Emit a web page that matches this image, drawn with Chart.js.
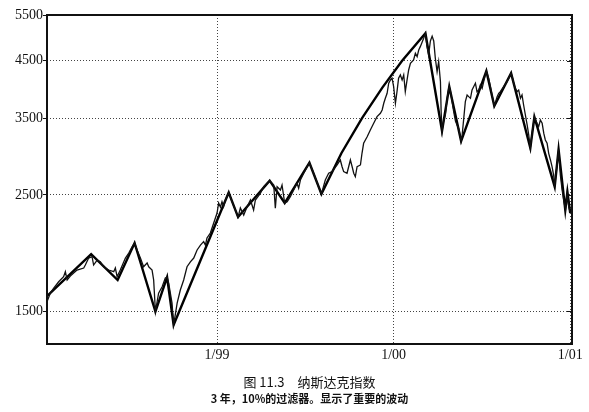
<!DOCTYPE html>
<html lang="zh">
<head>
<meta charset="utf-8">
<title>纳斯达克指数</title>
<script src="https://cdn.jsdelivr.net/npm/chart.js@4.4.1/dist/chart.umd.min.js"></script>
<style>
  html, body { margin: 0; padding: 0; background: #fff; }
  #chart { display: block; }
</style>
</head>
<body>
<canvas id="chart" width="589" height="412"></canvas>
<script>
// Nasdaq daily close, 1/98 - 1/01 (decimal years), and the 10% filter turning points
const dailyT = [
  1998.037, 1998.056, 1998.075, 1998.103, 1998.131, 1998.141, 1998.151, 1998.169, 1998.207, 1998.245,
  1998.254, 1998.273, 1998.292, 1998.301, 1998.321, 1998.339, 1998.358, 1998.386, 1998.415, 1998.424,
  1998.434, 1998.452, 1998.481, 1998.500, 1998.519, 1998.533, 1998.547, 1998.566, 1998.584, 1998.604,
  1998.613, 1998.632, 1998.641, 1998.651, 1998.669, 1998.689, 1998.707, 1998.717, 1998.726, 1998.745,
  1998.754, 1998.774, 1998.792, 1998.811, 1998.830, 1998.849, 1998.868, 1998.887, 1998.906, 1998.924,
  1998.934, 1998.943, 1998.962, 1998.981, 1999.000, 1999.009, 1999.019, 1999.028, 1999.037, 1999.047,
  1999.066, 1999.085, 1999.104, 1999.119, 1999.132, 1999.151, 1999.170, 1999.189, 1999.207, 1999.217,
  1999.245, 1999.264, 1999.283, 1999.298, 1999.321, 1999.330, 1999.340, 1999.359, 1999.368, 1999.383,
  1999.397, 1999.415, 1999.434, 1999.453, 1999.462, 1999.472, 1999.491, 1999.523, 1999.547, 1999.575,
  1999.591, 1999.613, 1999.632, 1999.651, 1999.680, 1999.698, 1999.708, 1999.717, 1999.736, 1999.755,
  1999.765, 1999.774, 1999.783, 1999.793, 1999.812, 1999.821, 1999.830, 1999.850, 1999.868, 1999.887,
  1999.906, 1999.925, 1999.935, 1999.944, 1999.953, 1999.963, 1999.972, 1999.982, 1999.991, 2000.000,
  2000.010, 2000.019, 2000.028, 2000.038, 2000.048, 2000.057, 2000.066, 2000.076, 2000.085, 2000.095,
  2000.113, 2000.123, 2000.133, 2000.142, 2000.151, 2000.170, 2000.180, 2000.189, 2000.198, 2000.208,
  2000.218, 2000.227, 2000.236, 2000.246, 2000.255, 2000.265, 2000.269, 2000.274, 2000.283, 2000.293,
  2000.303, 2000.312, 2000.315, 2000.322, 2000.331, 2000.340, 2000.350, 2000.359, 2000.368, 2000.382,
  2000.388, 2000.397, 2000.406, 2000.416, 2000.425, 2000.435, 2000.444, 2000.453, 2000.463, 2000.472,
  2000.482, 2000.491, 2000.501, 2000.510, 2000.525, 2000.538, 2000.548, 2000.557, 2000.570, 2000.586,
  2000.595, 2000.604, 2000.623, 2000.642, 2000.665, 2000.671, 2000.680, 2000.689, 2000.699, 2000.708,
  2000.718, 2000.727, 2000.736, 2000.746, 2000.756, 2000.765, 2000.774, 2000.784, 2000.797, 2000.812,
  2000.821, 2000.831, 2000.841, 2000.850, 2000.859, 2000.869, 2000.878, 2000.888, 2000.897, 2000.906,
  2000.912, 2000.922, 2000.934, 2000.944, 2000.954, 2000.963, 2000.973, 2000.982, 2000.991, 2001.001
];
const dailyV = [
  1564, 1625, 1661, 1708, 1746, 1785, 1721, 1751, 1798, 1814,
  1838, 1895, 1906, 1838, 1878, 1864, 1824, 1798, 1785, 1814,
  1746, 1798, 1895, 1937, 1991, 2024, 1963, 1895, 1824, 1854,
  1824, 1798, 1721, 1499, 1625, 1671, 1736, 1743, 1698, 1555,
  1413, 1555, 1647, 1721, 1824, 1864, 1895, 1963, 2006, 2036,
  2006, 2069, 2115, 2210, 2308, 2412, 2370, 2426, 2373, 2444,
  2526, 2426, 2339, 2268, 2360, 2288, 2373, 2444, 2339, 2444,
  2517, 2591, 2630, 2660, 2610, 2357, 2591, 2554, 2610, 2412,
  2426, 2480, 2554, 2630, 2573, 2668, 2748, 2878, 2748, 2591,
  2510, 2668, 2748, 2768, 2850, 2913, 2828, 2768, 2748, 2913,
  2828, 2748, 2707, 2828, 2850, 3003, 3134, 3226, 3322, 3422,
  3522, 3575, 3627, 3735, 3818, 3902, 4078, 4137, 4168, 4017,
  3735, 3930, 4168, 4229, 4137, 4229, 3930, 4137, 4322, 4450,
  4516, 4650, 4582, 4718, 4788, 4966, 5077, 4788, 4616, 4908,
  5013, 4908, 4549, 4290, 4483, 4106, 3595, 3307, 3455, 3548,
  3818, 3988, 4017, 3930, 3762, 3600, 3455, 3396, 3348, 3165,
  3250, 3496, 3762, 3873, 3845, 3818, 3959, 4017, 4078, 3930,
  3959, 4047, 3988, 4106, 4304, 4168, 4017, 3873, 3691, 3845,
  3902, 3930, 4017, 4106, 4261, 4200, 4078, 3988, 3930, 3959,
  3818, 3873, 3707, 3548, 3396, 3250, 3070, 3276, 3517, 3421,
  3371, 3471, 3421, 3276, 3180, 3134, 2999, 2913, 2828, 2727,
  2591, 2788, 3050, 2727, 2554, 2444, 2339, 2510, 2373, 2309
];
const filterT = [
  1998.037, 1998.287, 1998.437, 1998.533, 1998.651, 1998.717, 1998.754, 1999.066, 1999.119, 1999.298,
  1999.383, 1999.523, 1999.591, 1999.704, 1999.821, 1999.936, 2000.048, 2000.180, 2000.274, 2000.315,
  2000.382, 2000.525, 2000.570, 2000.665, 2000.774, 2000.797, 2000.912, 2000.934, 2000.972, 2000.984,
  2001.000
];
const filterV = [
  1604, 1928, 1721, 2024, 1499, 1743, 1413, 2526, 2268, 2660,
  2412, 2878, 2510, 3000, 3500, 4000, 4500, 5077, 3307, 4017,
  3165, 4304, 3691, 4261, 3070, 3517, 2591, 3050, 2339, 2532,
  2309
];
const xTicks = [1999, 2000, 2001];
const xTickLabels = ['1/99', '1/00', '1/01'];
const yTicks = [1500, 2500, 3500, 4500, 5500];
const titleText = '图 11.3　纳斯达克指数';
const subtitleText = '3 年，10%的过滤器。显示了重要的波动';

const tickFont = { family: '"Liberation Serif", "DejaVu Serif", serif', size: 14 };

// frame, inner right-hand ticks and the caption under the chart
const framePlugin = {
  id: 'frame',
  afterDraw(chart) {
    const { ctx, chartArea: a, scales } = chart;
    ctx.save();
    ctx.strokeStyle = '#111';
    ctx.lineWidth = 2;
    ctx.strokeRect(a.left, a.top, a.right - a.left, a.bottom - a.top);
    ctx.lineWidth = 1;
    yTicks.forEach((v) => {
      const y = Math.round(scales.y.getPixelForValue(v)) + 0.5;
      ctx.beginPath();
      ctx.moveTo(a.right - 5, y);
      ctx.lineTo(a.right, y);
      ctx.stroke();
    });
    const cx = (a.left + a.right) / 2;
    ctx.fillStyle = '#111';
    ctx.textAlign = 'center';
    ctx.textBaseline = 'middle';
    ctx.font = '13px "Noto Sans CJK SC"';
    ctx.fillText(titleText, cx, a.bottom + 38);
    ctx.font = 'bold 11px "Noto Sans CJK SC"';
    ctx.fillText(subtitleText, cx, a.bottom + 55);
    ctx.restore();
  }
};

new Chart(document.getElementById('chart'), {
  type: 'line',
  data: {
    datasets: [
      {
        label: '纳斯达克指数',
        data: dailyT.map((t, i) => ({ x: t, y: dailyV[i] })),
        borderColor: '#111',
        borderWidth: 1.3,
        pointRadius: 0,
        tension: 0,
        fill: false,
      },
      {
        label: '10%过滤器',
        data: filterT.map((t, i) => ({ x: t, y: filterV[i] })),
        borderColor: '#000',
        borderWidth: 2.4,
        pointRadius: 0,
        tension: 0,
        fill: false,
      },
    ],
  },
  options: {
    responsive: false,
    animation: false,
    layout: { padding: { left: 0, top: 15, right: 17, bottom: 42 } },
    plugins: {
      legend: { display: false },
      tooltip: { enabled: false },
    },
    scales: {
      x: {
        type: 'linear',
        min: 1998.037,
        max: 2001.01,
        afterBuildTicks: (s) => { s.ticks = xTicks.map((v) => ({ value: v })); },
        afterFit: (s) => { s.height = 26; },
        grid: { color: '#444', lineWidth: 1, drawTicks: false },
        border: { display: false, dash: [1, 2] },
        ticks: {
          padding: 3,
          color: '#111',
          font: tickFont,
          maxRotation: 0,
          autoSkip: false,
          callback: (v, i) => xTickLabels[i],
        },
      },
      y: {
        type: 'logarithmic',
        min: 1300,
        max: 5500,
        afterBuildTicks: (s) => { s.ticks = yTicks.map((v) => ({ value: v })); },
        afterFit: (s) => { s.width = 47; },
        grid: { color: '#444', lineWidth: 1, drawTicks: true, tickLength: 4, tickColor: '#111', tickBorderDash: [] },
        border: { display: false, dash: [1, 2] },
        ticks: {
          padding: 0,
          color: '#111',
          font: tickFont,
          autoSkip: false,
          callback: (v) => String(v),
        },
      },
    },
  },
  plugins: [framePlugin],
});
</script>
</body>
</html>
